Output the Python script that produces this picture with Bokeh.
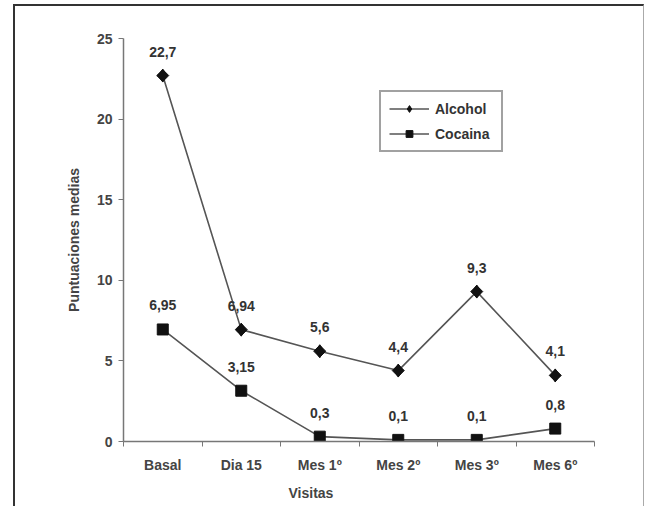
from bokeh.plotting import figure
from bokeh.models import Range1d, FixedTicker, Legend, LegendItem, ColumnDataSource, Title
from bokeh.core.properties import value
from bokeh.embed import file_html
from bokeh.resources import INLINE

categories = ["Basal", "Dia 15", "Mes 1º", "Mes 2º", "Mes 3º", "Mes 6º"]
alcohol = [22.7, 6.94, 5.6, 4.4, 9.3, 4.1]
cocaina = [6.95, 3.15, 0.3, 0.1, 0.1, 0.8]
alcohol_labels = ["22,7", "6,94", "5,6", "4,4", "9,3", "4,1"]
cocaina_labels = ["6,95", "3,15", "0,3", "0,1", "0,1", "0,8"]
y_ticks = [0, 5, 10, 15, 20, 25]

FONT = "Liberation Sans"
xpos = [i + 0.5 for i in range(len(categories))]

p = figure(width=631, height=502, output_backend="svg", toolbar_location=None,
           x_range=Range1d(0, len(categories)), y_range=Range1d(0, 25),
           min_border_left=108, min_border_right=52, min_border_top=32, min_border_bottom=67)
p.outline_line_color = None
p.xgrid.visible = False
p.ygrid.visible = False
p.styles = {"margin-left": "13px", "margin-top": "4px",
            "border-top": "2px solid #333", "border-left": "2px solid #333",
            "border-right": "1px solid #aaa"}

src_a = ColumnDataSource(dict(x=xpos, y=alcohol, lab=alcohol_labels))
src_c = ColumnDataSource(dict(x=xpos, y=cocaina, lab=cocaina_labels))

la = p.line("x", "y", source=src_a, line_color="#555555", line_width=1.6)
ma = p.scatter("x", "y", source=src_a, marker="diamond", size=13,
               fill_color="#111111", line_color="#111111")
p.scatter("x", "y", source=src_a, marker="square", angle=0.785398, size=8.5,
          fill_color="#111111", line_color="#111111")
lc = p.line("x", "y", source=src_c, line_color="#555555", line_width=1.6)
mc = p.scatter("x", "y", source=src_c, marker="square", size=11,
               fill_color="#111111", line_color="#111111")

for src in (src_a, src_c):
    p.text("x", "y", text="lab", source=src, text_align="center", text_baseline="middle",
           y_offset=-24, text_font=value(FONT), text_font_style="bold",
           text_font_size="14px", text_color="#333333")

# axes
xa = p.xaxis[0]
xa.ticker = FixedTicker(ticks=xpos, minor_ticks=list(range(len(categories) + 1)))
xa.major_label_overrides = {x: c for x, c in zip(xpos, categories)}
xa.major_tick_out = 0
xa.major_tick_in = 0
xa.minor_tick_out = 5
xa.minor_tick_in = 0
xa.minor_tick_line_color = "#777777"
xa.axis_line_color = "#777777"
xa.axis_line_width = 1.5
xa.major_label_standoff = 10
xa.major_label_text_font = FONT
xa.major_label_text_font_style = "bold"
xa.major_label_text_font_size = "14px"
xa.major_label_text_color = "#444444"

ya = p.yaxis[0]
ya.ticker = FixedTicker(ticks=y_ticks)
ya.major_tick_out = 5
ya.major_tick_in = 0
ya.minor_tick_out = 0
ya.minor_tick_in = 0
ya.major_tick_line_color = "#777777"
ya.axis_line_color = "#777777"
ya.axis_line_width = 1.5
ya.major_label_standoff = 6
ya.major_label_text_font = FONT
ya.major_label_text_font_style = "bold"
ya.major_label_text_font_size = "14px"
ya.major_label_text_color = "#444444"
ya.axis_label = "Puntuaciones medias"
ya.axis_label_text_font = FONT
ya.axis_label_text_font_style = "bold"
ya.axis_label_text_font_size = "14px"
ya.axis_label_text_color = "#444444"
ya.axis_label_standoff = 12

xt = Title(text="Visitas", align="left", offset=165, standoff=15,
           text_font=FONT, text_font_style="bold", text_font_size="14px",
           text_color="#444444")
p.add_layout(xt, "below")

legend = Legend(items=[LegendItem(label="Alcohol", renderers=[la, ma]),
                       LegendItem(label="Cocaina", renderers=[lc, mc])],
                location=(256, 289), orientation="vertical")
legend.border_line_color = "#444444"
legend.border_line_width = 2
legend.background_fill_color = "white"
legend.label_text_font = FONT
legend.label_text_font_style = "bold"
legend.label_text_font_size = "14px"
legend.label_text_color = "#333333"
legend.glyph_width = 40
legend.glyph_height = 17
legend.label_height = 17
legend.label_width = 58
legend.spacing = 8
legend.padding = 8
legend.margin = 0
legend.label_standoff = 6
p.add_layout(legend, "center")

open("out.html", "w").write(file_html(p, INLINE))
